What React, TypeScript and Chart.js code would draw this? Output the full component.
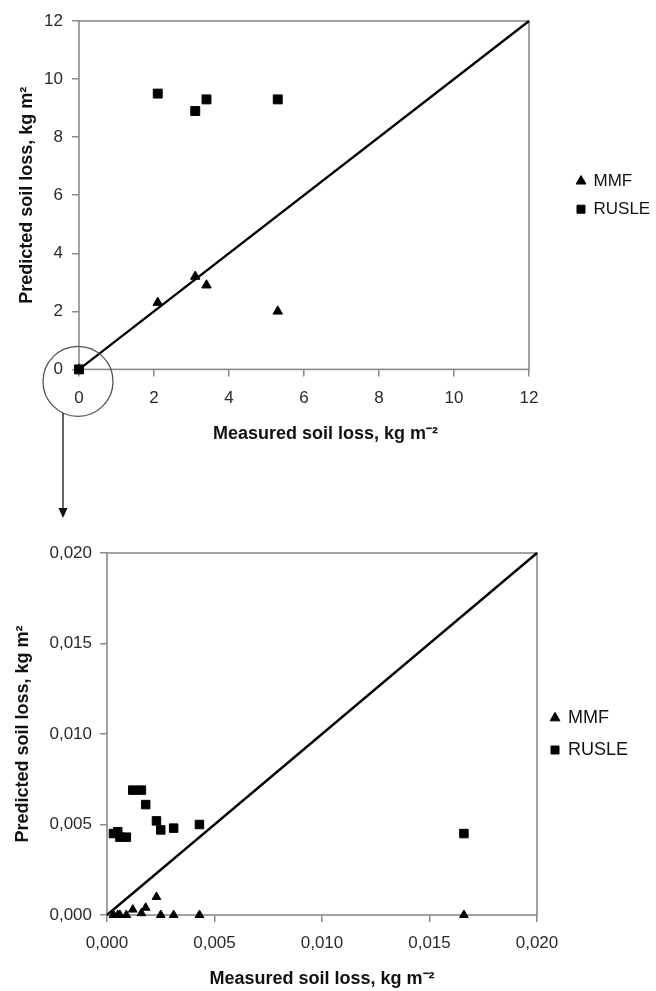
import React, { useEffect, useRef } from "react";
import { Chart, registerables } from "chart.js";

Chart.register(...registerables);

// ---------------- data ----------------
const topMeasured = [0, 2.1, 3.1, 3.4, 5.3];
const topMMF = [0, 2.3, 3.2, 2.9, 2.0];
const topRUSLE = [0, 9.5, 8.9, 9.3, 9.3];
const topTicks = [0, 2, 4, 6, 8, 10, 12];
const topOneToOne = [0, 12];

const bottomMeasured = [0.0003, 0.0005, 0.0006, 0.0009, 0.0012, 0.0016, 0.0018, 0.0023, 0.0025, 0.0031, 0.0043, 0.0166];
const bottomMMF = [0, 0, 0, 0, 0.0003, 0.0001, 0.0004, 0.001, 0, 0, 0, 0];
const bottomRUSLE = [0.0045, 0.0046, 0.0043, 0.0043, 0.0069, 0.0069, 0.0061, 0.0052, 0.0047, 0.0048, 0.005, 0.0045];
const bottomTicks = [0, 0.005, 0.01, 0.015, 0.02];
const bottomOneToOne = [0, 0.02];

const seriesNames = ["MMF", "RUSLE"];
const xAxisTitle = "Measured soil loss, kg m\u207B\u00B2";
const yAxisTitle = "Predicted soil loss, kg m\u00B2";

// ---------------- styling ----------------
const FONT = "'Liberation Sans', Arial, Helvetica, sans-serif";
const GRAY = "#8a8a8a";
const TEXT = "#2a2a2a";

const framePlugin = {
  id: "frame",
  beforeDatasetsDraw(chart: any) {
    const { ctx, chartArea: a } = chart;
    ctx.save();
    ctx.strokeStyle = GRAY;
    ctx.lineWidth = 1.6;
    ctx.strokeRect(a.left, a.top, a.right - a.left, a.bottom - a.top);
    ctx.restore();
  },
};

const zoomMarkPlugin = {
  id: "zoomMark",
  afterDraw(chart: any) {
    const { ctx, scales } = chart;
    const cx = scales.x.getPixelForValue(0) - 1;
    const cy = scales.y.getPixelForValue(0) + 12;
    const r = 35;
    ctx.save();
    ctx.strokeStyle = "#555";
    ctx.lineWidth = 1.3;
    ctx.beginPath();
    ctx.arc(cx, cy, r, 0, Math.PI * 2);
    ctx.stroke();
    const ax = cx - 15;
    const ay0 = cy + Math.sqrt(r * r - 15 * 15);
    const ay1 = chart.height - 2;
    ctx.strokeStyle = "#333";
    ctx.lineWidth = 1.5;
    ctx.beginPath();
    ctx.moveTo(ax, ay0);
    ctx.lineTo(ax, ay1 - 6);
    ctx.stroke();
    ctx.fillStyle = "#111";
    ctx.beginPath();
    ctx.moveTo(ax - 4.5, ay1 - 10);
    ctx.lineTo(ax + 4.5, ay1 - 10);
    ctx.lineTo(ax, ay1);
    ctx.closePath();
    ctx.fill();
    ctx.restore();
  },
};

type Spec = {
  measured: number[];
  mmf: number[];
  rusle: number[];
  ticks: number[];
  line: number[];
  fmt: (v: number) => string;
  triR: number;
  rectR: number;
  yWidth: number;
  yTitlePad: number;
  yTickPad: number;
  xHeight: number;
  xTickPad: number;
  titleOnScale: boolean;
  xTitlePadBottom: number;
  dummy: number;
  legendPad: number;
  legendFont: number;
  legendMaxWidth: number;
  padding: { top: number; right: number; bottom: number; left: number };
  extraPlugins: any[];
};

function makeConfig(p: Spec): any {
  const pts = (xs: number[], ys: number[]) => xs.map((x, i) => ({ x, y: ys[i] }));
  const lo = p.ticks[0];
  const hi = p.ticks[p.ticks.length - 1];
  const tickFont = { family: FONT, size: 17 };
  const titleFont = { family: FONT, size: 18, weight: "bold" as const };
  return {
    type: "scatter",
    data: {
      datasets: [
        {
          label: seriesNames[0],
          data: pts(p.measured, p.mmf),
          pointStyle: "triangle",
          pointRadius: p.triR,
          backgroundColor: "#000",
          borderColor: "#000",
          borderWidth: 1,
          clip: false,
        },
        {
          label: seriesNames[1],
          data: pts(p.measured, p.rusle),
          pointStyle: "rect",
          pointRadius: p.rectR,
          backgroundColor: "#000",
          borderColor: "#000",
          borderWidth: 1,
          clip: false,
        },
        {
          type: "line",
          label: "1:1",
          data: pts(p.line, p.line),
          borderColor: "#000",
          borderWidth: 2.3,
          pointRadius: 0,
          fill: false,
          clip: false,
        },
      ],
    },
    options: {
      responsive: false,
      animation: false,
      layout: { padding: p.padding },
      plugins: {
        tooltip: { enabled: false },
        legend: {
          display: true,
          position: "right",
          align: "center",
          fullSize: false,
          maxWidth: p.legendMaxWidth,
          labels: {
            usePointStyle: true,
            boxWidth: 8,
            boxHeight: 8,
            padding: p.legendPad,
            color: "#111",
            font: { family: FONT, size: p.legendFont },
            filter: (item: any) => item.datasetIndex !== 2,
          },
        },
        title: p.titleOnScale
          ? { display: false }
          : {
              display: true,
              position: "bottom",
              text: xAxisTitle,
              color: "#111",
              font: titleFont,
              padding: { top: 4, bottom: 0 },
            },
      },
      scales: {
        x: {
          type: "linear",
          min: lo,
          max: hi,
          afterBuildTicks: (s: any) => {
            s.ticks = p.ticks.map((v) => ({ value: v }));
          },
          afterFit: (s: any) => {
            s.height = p.xHeight;
          },
          grid: { display: true, drawOnChartArea: false, drawTicks: true, tickLength: 7, color: GRAY, lineWidth: 1.5 },
          border: { display: false },
          ticks: {
            padding: p.xTickPad,
            font: tickFont,
            color: TEXT,
            maxRotation: 0,
            autoSkip: false,
            callback: (v: any) => p.fmt(Number(v)),
          },
          title: p.titleOnScale
            ? {
                display: true,
                text: xAxisTitle,
                color: "#111",
                font: titleFont,
                padding: { top: 0, bottom: p.xTitlePadBottom },
              }
            : { display: false },
        },
        y: {
          type: "linear",
          min: lo,
          max: hi,
          afterBuildTicks: (s: any) => {
            s.ticks = p.ticks.map((v) => ({ value: v }));
          },
          afterFit: (s: any) => {
            s.width = p.yWidth;
          },
          grid: { display: true, drawOnChartArea: false, drawTicks: true, tickLength: 7, color: GRAY, lineWidth: 1.5 },
          border: { display: false },
          ticks: {
            padding: p.yTickPad,
            font: tickFont,
            color: TEXT,
            autoSkip: false,
            callback: (v: any) => p.fmt(Number(v)),
          },
          title: {
            display: true,
            text: yAxisTitle,
            color: "#111",
            font: titleFont,
            padding: { top: p.yTitlePad, bottom: 0 },
          },
        },
        y2: {
          type: "linear",
          position: "right",
          display: p.dummy > 0,
          min: 0,
          max: 1,
          grid: { display: false },
          ticks: { display: false },
          border: { display: false },
          afterFit: (s: any) => {
            s.width = p.dummy;
          },
        },
      },
    },
    plugins: [framePlugin, ...p.extraPlugins],
  };
}

const topSpec: Spec = {
  measured: topMeasured,
  mmf: topMMF,
  rusle: topRUSLE,
  ticks: topTicks,
  line: topOneToOne,
  fmt: (v) => String(v),
  triR: 5.5,
  rectR: 6.3,
  yWidth: 79,
  yTitlePad: 16,
  yTickPad: 9,
  xHeight: 50,
  xTickPad: 12,
  titleOnScale: false,
  xTitlePadBottom: 0,
  dummy: 37,
  legendPad: 11,
  legendFont: 17,
  legendMaxWidth: 85,
  padding: { top: 21, right: 5, bottom: 75, left: 0 },
  extraPlugins: [zoomMarkPlugin],
};

const bottomSpec: Spec = {
  measured: bottomMeasured,
  mmf: bottomMMF,
  rusle: bottomRUSLE,
  ticks: bottomTicks,
  line: bottomOneToOne,
  fmt: (v) => v.toFixed(3).replace(".", ","),
  triR: 5,
  rectR: 6,
  yWidth: 107,
  yTitlePad: 12,
  yTickPad: 8,
  xHeight: 76,
  xTickPad: 11,
  titleOnScale: true,
  xTitlePadBottom: 1,
  dummy: 0,
  legendPad: 14,
  legendFont: 18,
  legendMaxWidth: 91,
  padding: { top: 33, right: 28, bottom: 0, left: 0 },
  extraPlugins: [],
};

function Panel({ spec, top, height }: { spec: Spec; top: number; height: number }) {
  const ref = useRef<HTMLCanvasElement | null>(null);
  useEffect(() => {
    if (!ref.current) return;
    const chart = new Chart(ref.current, makeConfig(spec));
    return () => chart.destroy();
  }, [spec]);
  return (
    <canvas
      ref={ref}
      width={656}
      height={height}
      style={{ position: "absolute", left: 0, top, width: 656, height, display: "block" }}
    />
  );
}

export default function App() {
  return (
    <div style={{ position: "absolute", left: 0, top: 0, width: 656, height: 991, background: "#fff" }}>
      <Panel spec={topSpec} top={0} height={520} />
      <Panel spec={bottomSpec} top={520} height={471} />
    </div>
  );
}
